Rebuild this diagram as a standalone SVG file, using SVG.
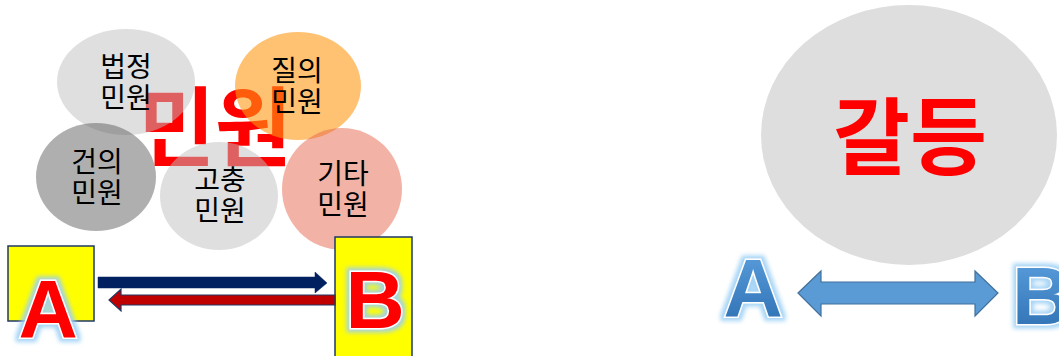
<svg xmlns="http://www.w3.org/2000/svg" width="1059" height="356" viewBox="0 0 1059 356">
<defs>
<style>
.lbl{font-family:"Noto Sans CJK KR","Noto Sans",sans-serif;font-size:28px;fill:#000;text-anchor:middle}
.big{font-family:"Noto Sans CJK KR","Noto Sans",sans-serif;font-weight:bold;fill:#ff0000;text-anchor:middle}
.let{font-family:"Liberation Sans",Arial,sans-serif;font-weight:bold;font-size:82px;text-anchor:middle;paint-order:stroke}
.box{fill:#ffff00;stroke:#1f3864;stroke-width:1.5}
</style>
<linearGradient id="blueg" x1="0" y1="0" x2="0" y2="1">
<stop offset="0" stop-color="#5fa2e0"/>
<stop offset="1" stop-color="#2a6db0"/>
</linearGradient>
<filter id="glow" x="-30%" y="-30%" width="160%" height="160%">
<feMorphology in="SourceAlpha" operator="dilate" radius="3" result="d"/>
<feGaussianBlur in="d" stdDeviation="2" result="b"/>
<feFlood flood-color="#9dd0f5" flood-opacity="0.9"/>
<feComposite in2="b" operator="in" result="g"/>
<feMerge><feMergeNode in="g"/><feMergeNode in="SourceGraphic"/></feMerge>
</filter>
</defs>
<rect width="1059" height="356" fill="#ffffff"/>

<g id="title-minwon">
<text class="big" x="215" y="147" font-size="80" transform="translate(215 0) scale(1.04 1.09) translate(-215 0)">민원</text>
</g>

<g id="node-beopjeong">
<ellipse cx="126" cy="82" rx="69" ry="53" fill="#bfbfbf" fill-opacity="0.5"/>
<text class="lbl" x="126" y="77">법정</text>
<text class="lbl" x="126" y="108">민원</text>
</g>
<g id="node-jirui">
<ellipse cx="298" cy="86" rx="63" ry="54" fill="#ff9a14" fill-opacity="0.6"/>
<text class="lbl" x="297" y="81">질의</text>
<text class="lbl" x="297" y="112">민원</text>
</g>
<g id="node-geonui">
<ellipse cx="96" cy="177" rx="60" ry="54" fill="#5f5f5f" fill-opacity="0.5"/>
<text class="lbl" x="97" y="172">건의</text>
<text class="lbl" x="97" y="203">민원</text>
</g>
<g id="node-gochung">
<ellipse cx="219" cy="196" rx="59" ry="54" fill="#bfbfbf" fill-opacity="0.5"/>
<text class="lbl" x="220" y="190">고충</text>
<text class="lbl" x="220" y="221">민원</text>
</g>
<g id="node-gita">
<ellipse cx="342" cy="189" rx="60" ry="61" fill="#e5654d" fill-opacity="0.5"/>
<text class="lbl" x="343" y="184">기타</text>
<text class="lbl" x="343" y="215">민원</text>
</g>

<g id="node-A">
<rect class="box" x="8" y="246" width="86" height="75"/>
<text class="let" x="48" y="337" fill="#ff0000" stroke="#ffffff" stroke-width="3" filter="url(#glow)">A</text>
</g>
<g id="node-B">
<rect class="box" x="335" y="237" width="77" height="125"/>
<text class="let" x="375" y="328" fill="#ff0000" stroke="#ffffff" stroke-width="3" filter="url(#glow)">B</text>
</g>

<g id="node-conflict">
<ellipse cx="909" cy="135" rx="148" ry="130" fill="#dedede"/>
<text class="big" x="910" y="165" font-size="82" transform="translate(910 0) scale(1.02 1.02) translate(-910 0)">갈등</text>
</g>

<g id="node-A2">
<text class="let" x="753" y="316" fill="url(#blueg)" stroke="#ffffff" stroke-width="3" filter="url(#glow)">A</text>
</g>
<g id="node-B2">
<text class="let" x="1012" y="324" style="text-anchor:start" fill="url(#blueg)" stroke="#ffffff" stroke-width="3" filter="url(#glow)">B</text>
</g>

<g id="connectors">
<polygon points="98,277 315,277 315,272 327,283 315,293 315,288 98,288" fill="#002060" stroke="#002060" stroke-width="0.5"/>
<polygon points="335,295 121,295 121,289 109,300 121,311 121,305 335,305" fill="#c00000" stroke="#1f3864" stroke-width="1.2"/>
<polygon points="798,293 821,271 821,282 975,282 975,271 998,293 975,316 975,304 821,304 821,316" fill="#5b9bd5" stroke="#41719c" stroke-width="1.2"/>
</g>
</svg>
